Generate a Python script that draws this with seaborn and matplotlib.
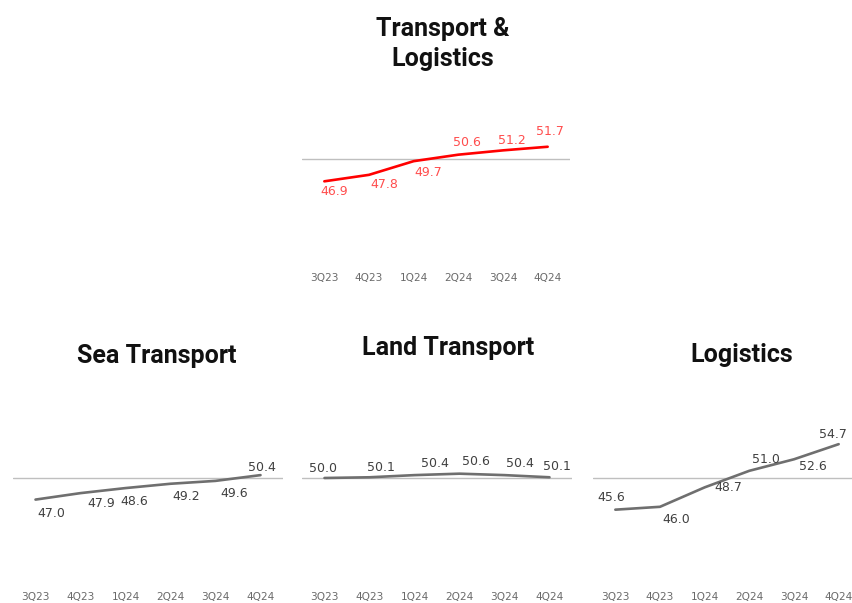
import pandas as pd
import seaborn as sns
import matplotlib.pyplot as plt

quarters = ["3Q23", "4Q23", "1Q24", "2Q24", "3Q24", "4Q24"]
transport_logistics = [46.9, 47.8, 49.7, 50.6, 51.2, 51.7]
sea_transport = [47.0, 47.9, 48.6, 49.2, 49.6, 50.4]
land_transport = [50.0, 50.1, 50.4, 50.6, 50.4, 50.1]
logistics = [45.6, 46.0, 48.7, 51.0, 52.6, 54.7]

W, H = 852, 603
PX_PER_UNIT = 7.2
Y_LO, Y_HI = 34.5, 58.0

sns.set_theme(style="white")
plt.rcParams["font.family"] = ["DejaVu Sans"]

fig = plt.figure(figsize=(W / 100, H / 100), dpi=100)


def make_axes(left_px, ref_px, width_px=268):
    # place axes so that the 50 line lands on ref_px (pixels from top)
    top_px = ref_px - (Y_HI - 50) * PX_PER_UNIT
    bottom_px = ref_px + (50 - Y_LO) * PX_PER_UNIT
    return fig.add_axes([left_px / W, 1 - bottom_px / H,
                         width_px / W, (bottom_px - top_px) / H])


def panel(ax, values, offsets, line_color, text_color):
    df = pd.DataFrame({"x": range(len(quarters)), "value": values})
    ax.axhline(50, color="#bfbfbf", lw=1.0, zorder=1)
    sns.lineplot(data=df, x="x", y="value", ax=ax, color=line_color,
                 lw=1.9, zorder=2)
    for i, (v, (dx, dy)) in enumerate(zip(values, offsets)):
        ax.annotate(f"{v:.1f}", (i, v), xytext=(dx * 0.72, -dy * 0.72),
                    textcoords="offset points", ha="center", va="center",
                    fontsize=9, color=text_color)
    ax.set_xlim(-0.5, len(quarters) - 0.5)
    ax.set_ylim(Y_LO, Y_HI)
    ax.set_xticks(range(len(quarters)))
    ax.set_xticklabels(quarters, fontsize=7.6, color="#6a6a6a")
    ax.tick_params(axis="x", length=0, pad=1.5)
    ax.set_yticks([])
    ax.set_xlabel("")
    ax.set_ylabel("")
    sns.despine(ax=ax, left=True, bottom=True)
    ax.patch.set_alpha(0)


# label offsets in pixels (dx right, dy down)
top_off = [(9.5, 10.5), (15, 10), (15, 11), (9, -12), (9, -10), (2.5, -15)]
sea_off = [(15.7, 13.7), (20.7, 10.4), (8.5, 13.8), (15.3, 13), (18.4, 12.5), (1.3, -7.3)]
land_off = [(-1, -9.4), (11, -10), (20.7, -11.5), (16, -11.7), (15, -11.5), (7.5, -11)]
log_off = [(-4.3, -11.7), (15.8, 12.5), (23.7, 0.6), (16.5, -11), (19, 7), (-6, -9.3)]

ax_top = make_axes(302, 159)
panel(ax_top, transport_logistics, top_off, "#ff0000", "#ff4d4d")

ax_sea = make_axes(13, 478, 270)
panel(ax_sea, sea_transport, sea_off, "#6f6f6f", "#404040")

ax_land = make_axes(302, 478, 270)
panel(ax_land, land_transport, land_off, "#6f6f6f", "#404040")

ax_log = make_axes(593, 478, 268)
panel(ax_log, logistics, log_off, "#6f6f6f", "#404040")

title_kw = dict(ha="center", va="baseline", fontsize=18, fontweight="bold",
                color="#111111", family=["Roboto", "DejaVu Sans"])
fig.text(443 / W, 1 - 36 / H, "Transport &", **title_kw)
fig.text(443 / W, 1 - 66 / H, "Logistics", **title_kw)
fig.text(157 / W, 1 - 363 / H, "Sea Transport", **title_kw)
fig.text(448 / W, 1 - 355 / H, "Land Transport", **title_kw)
fig.text(742 / W, 1 - 362 / H, "Logistics", **title_kw)

fig.savefig("out.png", dpi=100)
